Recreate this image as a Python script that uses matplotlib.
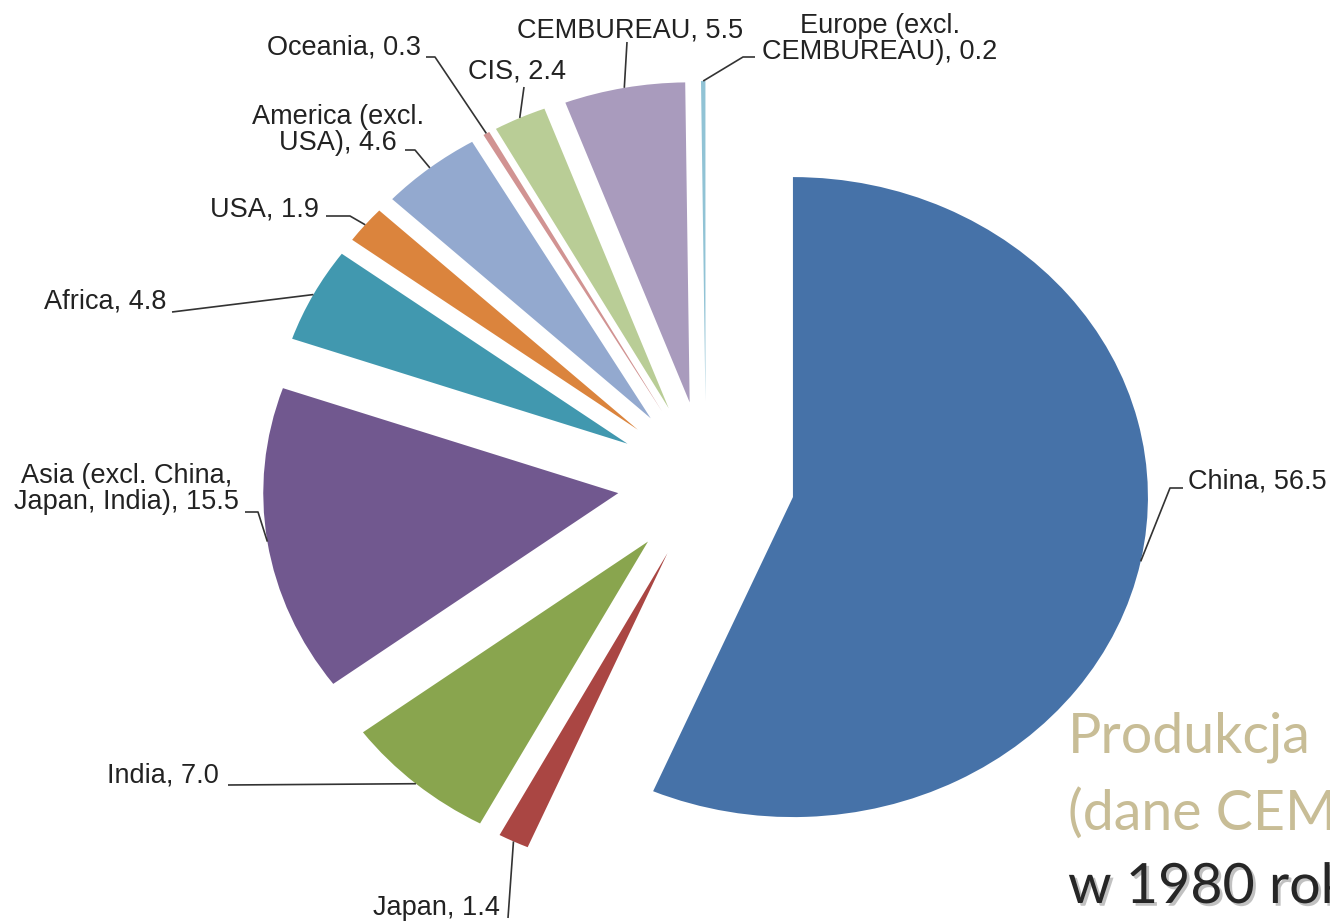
import numpy as np
import matplotlib
matplotlib.use("Agg")
import matplotlib.pyplot as plt
import matplotlib.patheffects as pe

# cement production share by region (%)
regions = ["China", "Japan", "India", "Asia (excl. China,\nJapan, India)", "Africa", "USA",
           "America (excl.\nUSA)", "Oceania", "CIS", "CEMBUREAU", "Europe (excl.\nCEMBUREAU)"]
shares = [56.5, 1.4, 7.0, 15.5, 4.8, 1.9, 4.6, 0.3, 2.4, 5.5, 0.2]
colors = ["#4672a8", "#aa4643", "#89a54e", "#71588f", "#4198af", "#db843d",
          "#93a9cf", "#d19392", "#b9cd96", "#a99bbd", "#91c3d5"]

W, H = 1330, 921
# pixel position of pie centre and radius (x / y differ, the source image is stretched)
CX, CY, SX, SY = 706, 481, 355, 320


def px(x, y):
    return ((x - CX) / SX, (CY - y) / SY)


# label layout in pixels: text position, ha, leader points (from wedge outwards)
label_layout = [
    ((1188, 482), "left", [(1170, 488), (1183, 488)]),
    ((500, 908), "right", [(508, 918)]),
    ((219, 776), "right", [(228, 785)]),
    ((239, 489), "right", [(258, 512), (245, 512)]),
    ((166, 302), "right", [(172, 312)]),
    ((319, 210), "right", [(350, 216), (326, 216)]),
    ((338, 130), "center", [(415, 150), (405, 150)]),
    ((421, 48), "right", [(435, 57), (426, 57)]),
    ((517, 72), "center", [(524, 87)]),
    ((630, 31), "center", [(627, 42)]),
    ((880, 39), "center", [(743, 57), (755, 57)]),
]

fig = plt.figure(figsize=(W / 100, H / 100), dpi=100)
ax = fig.add_axes([0, 0, 1, 1])

wedges, _ = ax.pie(shares, explode=[0.25] * len(shares), colors=colors, startangle=90,
                   counterclock=False, wedgeprops=dict(linewidth=0))
ax.set_aspect("auto")
ax.set_xlim((0 - CX) / SX, (W - CX) / SX)
ax.set_ylim((CY - H) / SY, CY / SY)
ax.axis("off")

for w, name, val, (tpos, ha, pts) in zip(wedges, regions, shares, label_layout):
    mid = np.deg2rad((w.theta1 + w.theta2) / 2)
    ax0 = w.center[0] + w.r * np.cos(mid)
    ay0 = w.center[1] + w.r * np.sin(mid)
    xs = [ax0] + [px(*p)[0] for p in pts]
    ys = [ay0] + [px(*p)[1] for p in pts]
    ax.plot(xs, ys, color="#333333", lw=1.2, solid_capstyle="butt")
    tx, ty = px(*tpos)
    ax.text(tx, ty, f"{name}, {val:.1f}", ha=ha, va="center", multialignment="center",
            fontsize=19.5, family="Liberation Sans", color="#222222", linespacing=1.0)

# slide title overlay, cut off at the right edge in the source
fig.text(1068 / W, 1 - 752 / H, "Produkcja", fontsize=40, family="Lato",
         color="#c8bd96", va="baseline")
fig.text(1068 / W, 1 - 830 / H, "(dane CEMBUREAU)", fontsize=40, family="Lato",
         color="#c8bd96", va="baseline")
fig.text(1068 / W, 1 - 903 / H, "w 1980 roku", fontsize=40, family="Lato",
         color="#262626", va="baseline",
         path_effects=[pe.withSimplePatchShadow(offset=(2, -2), shadow_rgbFace="#999999", alpha=0.6)])

fig.savefig("out.png", dpi=100, facecolor="white")
